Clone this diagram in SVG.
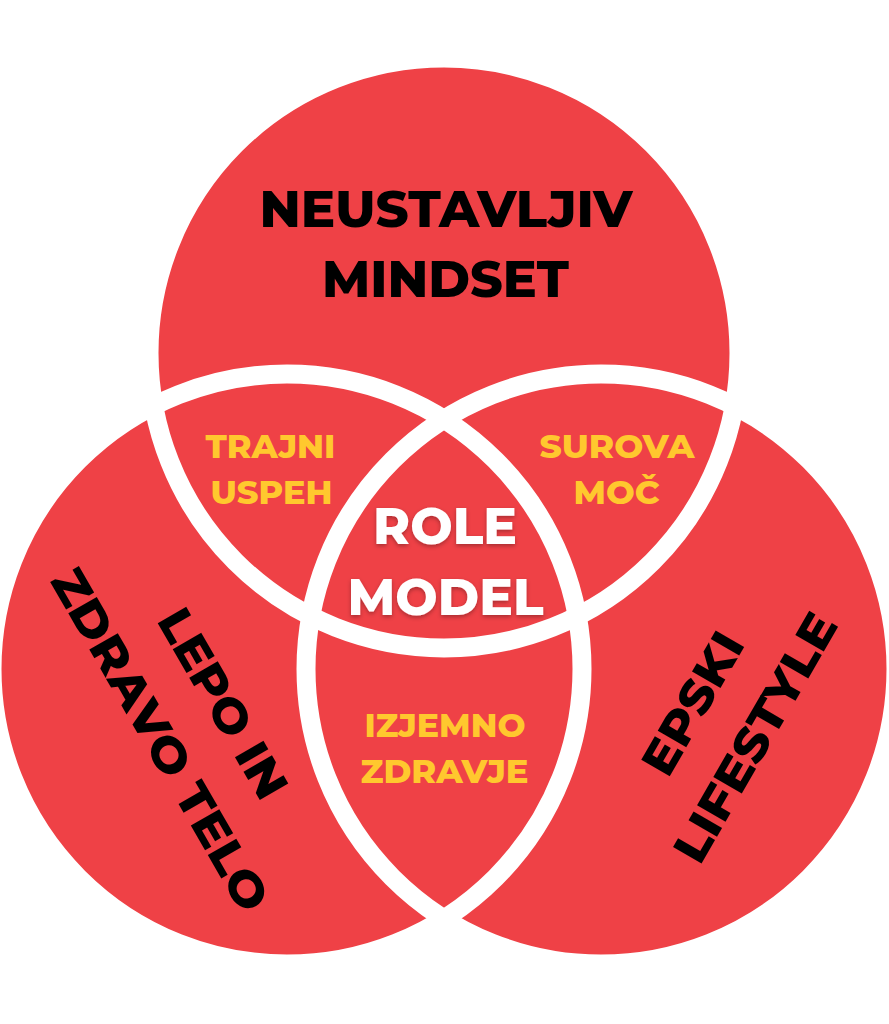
<svg xmlns="http://www.w3.org/2000/svg" width="889" height="1024" viewBox="0 0 889 1024">
  <defs>
    <style>
      .fill { fill: #EF4146; }
      .outline { fill: none; stroke: #FFFFFF; stroke-width: 19; }
      .t { font-family: "Montserrat", "Open Sans", "DejaVu Sans", sans-serif; font-weight: 800; text-anchor: middle; lengthAdjust: spacingAndGlyphs; }
      .big { font-size: 50px; fill: #000000; }
      .side { font-size: 47px; fill: #000000; }
      .yel { font-size: 32px; fill: #FFC82E; }
      .yel2 { font-size: 33px; fill: #FFC82E; }
      .white { font-size: 50px; fill: #FFFFFF; }
    </style>
    <filter id="shadow" x="-20%" y="-30%" width="140%" height="160%">
      <feDropShadow dx="0" dy="2" stdDeviation="2" flood-color="#000000" flood-opacity="0.3"/>
    </filter>
  </defs>
  <rect width="889" height="1024" fill="#FFFFFF"/>

  <g id="circle-top">
    <circle class="fill" cx="444" cy="353" r="295"/>
    <text class="t big" x="446" y="227" textLength="373" lengthAdjust="spacingAndGlyphs">NEUSTAVLJIV</text>
    <text class="t big" x="445.5" y="297" textLength="247" lengthAdjust="spacingAndGlyphs">MINDSET</text>
  </g>

  <g id="circle-left">
    <circle class="fill" cx="287" cy="669" r="295"/>
    <text class="t side" transform="translate(208.7,711.6) rotate(60)" x="0" y="0" textLength="211" lengthAdjust="spacingAndGlyphs">LEPO IN</text>
    <text class="t side" transform="translate(146,748) rotate(60)" x="0" y="0" textLength="387" lengthAdjust="spacingAndGlyphs">ZDRAVO TELO</text>
  </g>

  <g id="circle-right">
    <circle class="fill" cx="601" cy="669" r="295"/>
    <text class="t side" transform="translate(706.9,711.6) rotate(-60)" x="0" y="0" textLength="156" lengthAdjust="spacingAndGlyphs">EPSKI</text>
    <text class="t side" transform="translate(769.4,745.8) rotate(-60)" x="0" y="0" textLength="279" lengthAdjust="spacingAndGlyphs">LIFESTYLE</text>
  </g>

  <g id="outlines">
    <circle class="outline" cx="444" cy="353" r="295"/>
    <circle class="outline" cx="287" cy="669" r="295"/>
    <circle class="outline" cx="601" cy="669" r="295"/>
  </g>

  <g id="region-top-left">
    <text class="t yel" x="270.5" y="458" textLength="130" lengthAdjust="spacingAndGlyphs">TRAJNI</text>
    <text class="t yel" x="271.5" y="504" textLength="122" lengthAdjust="spacingAndGlyphs">USPEH</text>
  </g>

  <g id="region-top-right">
    <text class="t yel" x="617" y="458" textLength="155" lengthAdjust="spacingAndGlyphs">SUROVA</text>
    <text class="t yel" x="616.5" y="504" textLength="86" lengthAdjust="spacingAndGlyphs">MOČ</text>
  </g>

  <g id="region-center" filter="url(#shadow)">
    <text class="t white" x="445" y="544" textLength="144" lengthAdjust="spacingAndGlyphs">ROLE</text>
    <text class="t white" x="445.5" y="615" textLength="196" lengthAdjust="spacingAndGlyphs">MODEL</text>
  </g>

  <g id="region-bottom">
    <text class="t yel2" x="445" y="737" textLength="161" lengthAdjust="spacingAndGlyphs">IZJEMNO</text>
    <text class="t yel2" x="444.5" y="783" textLength="168" lengthAdjust="spacingAndGlyphs">ZDRAVJE</text>
  </g>
</svg>
